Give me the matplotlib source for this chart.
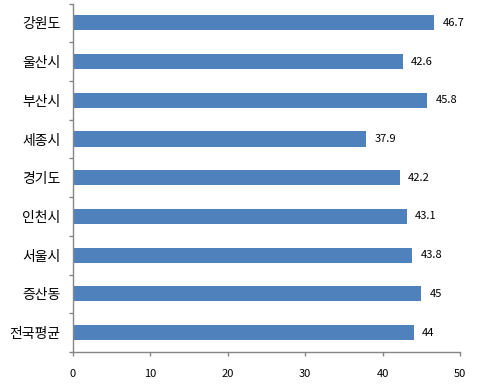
import matplotlib
matplotlib.use("Agg")
import matplotlib.pyplot as plt
import numpy as np

plt.rcParams['font.family'] = ['Noto Sans CJK KR', 'DejaVu Sans']

categories = ['강원도', '울산시', '부산시', '세종시', '경기도', '인천시', '서울시', '증산동', '전국평균']
values = [46.7, 42.6, 45.8, 37.9, 42.2, 43.1, 43.8, 45, 44]
value_labels = ['46.7', '42.6', '45.8', '37.9', '42.2', '43.1', '43.8', '45', '44']
xticks = [0, 10, 20, 30, 40, 50]

fig = plt.figure(figsize=(4.87, 3.87), dpi=100)
ax = fig.add_axes([73/487, 1-352/387, (460-73)/487, (352-3.5)/387])

y = np.arange(len(categories))
ax.barh(y, values, height=0.39, color='#4F81BD')
ax.set_ylim(len(categories)-0.5, -0.5)
ax.set_xlim(0, 50)

for yi, v, lab in zip(y, values, value_labels):
    ax.annotate(lab, (v, yi), xytext=(6, 0), textcoords='offset points',
                va='center', ha='left', fontsize=8, color='black')

ax.set_yticks(y)
ax.set_yticklabels(categories, fontsize=10)
ax.tick_params(axis='y', which='major', length=0, pad=9)
ax.set_yticks(np.arange(-0.5, len(categories), 1.0), minor=True)
ax.tick_params(axis='y', which='minor', length=3, width=1, color='#868686', direction='out')

ax.set_xticks(xticks)
ax.set_xticklabels([str(t) for t in xticks], fontsize=8)
ax.tick_params(axis='x', length=3, width=1, color='#868686', direction='out', pad=9)

for s in ['top', 'right']:
    ax.spines[s].set_visible(False)
for s in ['left', 'bottom']:
    ax.spines[s].set_color('#868686')
    ax.spines[s].set_linewidth(1)

fig.savefig('out.png', dpi=100)
